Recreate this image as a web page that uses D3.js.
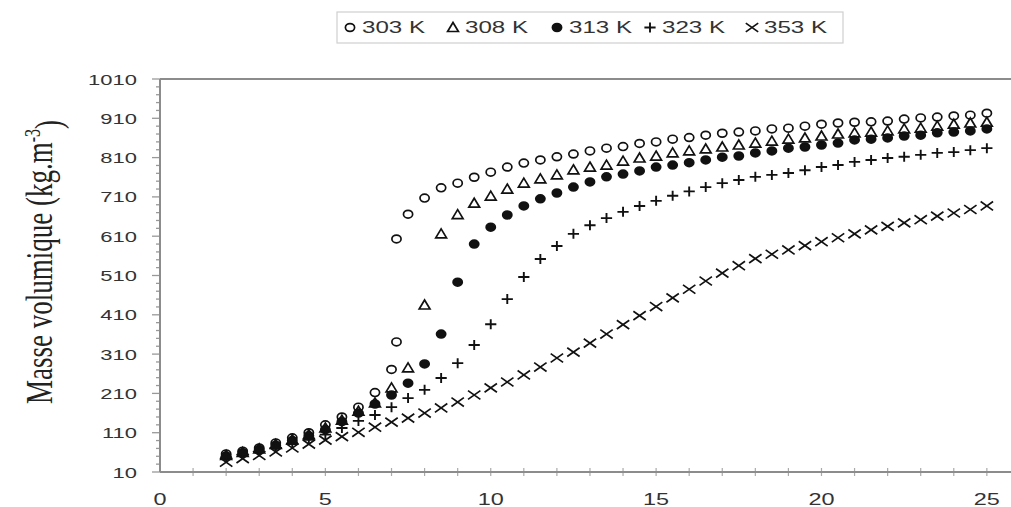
<!DOCTYPE html>
<html>
<head>
<meta charset="utf-8">
<script src="https://cdn.jsdelivr.net/npm/d3@7"></script>
<style>
    body { margin: 0; background: #fff; }
    svg { display: block; }
</style>
</head>
<body>
<div id="chart"></div>
<script>

// pressure (x) values
const pressure = [2, 2.5, 3, 3.5, 4, 4.5, 5, 5.5, 6, 6.5, 7, 7.5, 8, 8.5, 9, 9.5, 10, 10.5, 11, 11.5,
    12, 12.5, 13, 13.5, 14, 14.5, 15, 15.5, 16, 16.5, 17, 17.5, 18, 18.5, 19, 19.5, 20, 20.5,
    21, 21.5, 22, 22.5, 23, 23.5, 24, 24.5, 25];

// 303 K has a jump (two points) just above 7
const pressure303 = [2, 2.5, 3, 3.5, 4, 4.5, 5, 5.5, 6, 6.5, 7, 7.15, 7.15, 7.5, 8, 8.5, 9, 9.5, 10,
    10.5, 11, 11.5, 12, 12.5, 13, 13.5, 14, 14.5, 15, 15.5, 16, 16.5, 17, 17.5, 18, 18.5, 19,
    19.5, 20, 20.5, 21, 21.5, 22, 22.5, 23, 23.5, 24, 24.5, 25];

const rho303 = [56, 63, 71, 84, 97, 110, 130, 150, 175, 212, 271, 341, 603, 666, 707, 733, 745, 760, 773,
    786, 796, 804, 812, 819, 827, 834, 838, 846, 850, 857, 861, 867, 872, 875, 878, 883, 885,
    890, 895, 898, 900, 901, 903, 908, 911, 913, 916, 918, 923];

const rho308 = [52, 60, 69, 80, 92, 105, 122, 142, 165, 186, 224, 275, 435, 616, 665, 694, 712, 730, 745, 756,
    766, 779, 786, 791, 801, 809, 814, 822, 827, 832, 837, 842, 847, 852, 857, 860, 865, 870,
    873, 875, 878, 883, 885, 890, 895, 898, 900];

const rho313 = [51, 59, 67, 78, 90, 102, 118, 138, 160, 183, 206, 236, 285, 361, 493, 590, 633, 664, 687, 705,
    720, 735, 748, 761, 768, 776, 786, 791, 797, 804, 811, 814, 822, 827, 834, 837, 842, 847,
    855, 857, 860, 865, 867, 873, 875, 878, 883];

const rho323 = [48, 55, 62, 71, 81, 92, 105, 122, 140, 155, 175, 198, 219, 249, 287, 333, 386, 450, 506, 552,
    585, 616, 638, 656, 672, 687, 700, 713, 724, 735, 745, 753, 761, 766, 771, 778, 786, 791,
    799, 804, 809, 812, 817, 822, 824, 829, 834];

const rho353 = [35, 44, 52, 61, 71, 81, 91, 100, 111, 124, 137, 147, 160, 173, 188, 206, 224, 239, 257, 277,
    300, 315, 338, 361, 385, 408, 431, 453, 475, 496, 516, 535, 553, 564, 575, 586, 596, 606,
    616, 626, 635, 644, 652, 661, 669, 678, 687];

const seriesNames = ["303 K", "308 K", "313 K", "323 K", "353 K"];
const seriesShapes = ["circle", "triangle", "dot", "plus", "times"];

const yTickValues = [10, 110, 210, 310, 410, 510, 610, 710, 810, 910, 1010];
const xTickLabels = [0, 5, 10, 15, 20, 25];


class DensityVis {

    constructor(parentElement) {
        this.parentElement = parentElement;
        this.initVis();
    }

    initVis() {
        let vis = this;

        vis.margin = {top: 79, right: 0, bottom: 35, left: 160};
        vis.width = 1011 - vis.margin.left - vis.margin.right;
        vis.height = 507 - vis.margin.top - vis.margin.bottom;
        vis.stretch = 1.42;   // the picture is wider than tall text would be

        vis.root = d3.select("#" + vis.parentElement).append("svg")
            .attr("width", 1011)
            .attr("height", 507);

        vis.svg = vis.root.append("g")
            .attr("transform", `translate(${vis.margin.left}, ${vis.margin.top})`);

        vis.x = d3.scaleLinear()
            .domain([0, 25.73])
            .range([0, vis.width]);

        vis.y = d3.scaleLinear()
            .domain([10, 1010])
            .range([vis.height, 0]);

        vis.displayData = [
            {name: seriesNames[0], shape: seriesShapes[0], values: pressure303.map((p, i) => ({p: p, rho: rho303[i]}))},
            {name: seriesNames[1], shape: seriesShapes[1], values: pressure.map((p, i) => ({p: p, rho: rho308[i]}))},
            {name: seriesNames[2], shape: seriesShapes[2], values: pressure.map((p, i) => ({p: p, rho: rho313[i]}))},
            {name: seriesNames[3], shape: seriesShapes[3], values: pressure.map((p, i) => ({p: p, rho: rho323[i]}))},
            {name: seriesNames[4], shape: seriesShapes[4], values: pressure.map((p, i) => ({p: p, rho: rho353[i]}))}
        ];

        vis.updateVis();
    }

    // marker path centred on 0,0
    shapePath(shape) {
        switch (shape) {
            case "circle":
            case "dot":
                return "M-4.6,0A4.6,3.9 0 1 0 4.6,0A4.6,3.9 0 1 0 -4.6,0Z";
            case "triangle":
                return "M0,-5L5.4,4L-5.4,4Z";
            case "plus":
                return "M-5.6,0H5.6M0,-5V5";
            default:
                return "M-6.2,-4.4L6.2,4.4M-6.2,4.4L6.2,-4.4";
        }
    }

    drawMarker(g, shape, cx, cy) {
        let vis = this;
        let filled = shape === "dot";
        g.append("path")
            .attr("d", vis.shapePath(shape))
            .attr("transform", `translate(${cx},${cy})`)
            .attr("fill", filled ? "#111" : "none")
            .attr("stroke", "#111")
            .attr("stroke-width", shape === "plus" ? 1.9 : 1.7);
    }

    stretchedText(g, x, y, str, size, anchor) {
        let vis = this;
        return g.append("text")
            .attr("transform", `translate(${x},${y}) scale(${vis.stretch},1)`)
            .attr("text-anchor", anchor)
            .style("font-family", "'Liberation Sans', Arial, sans-serif")
            .style("font-size", size + "px")
            .style("fill", "#333")
            .text(str);
    }

    updateVis() {
        let vis = this;

        // frame: top line, y axis, x axis
        vis.svg.append("line")
            .attr("x1", 0).attr("x2", vis.width)
            .attr("y1", 0).attr("y2", 0)
            .attr("stroke", "#8c8c8c").attr("stroke-width", 2);

        // y axis ticks
        let yMinor = d3.range(10, 1011, 20);
        vis.svg.append("g").selectAll("line.minor")
            .data(yMinor)
            .enter().append("line")
            .attr("x1", d => yTickValues.includes(d) ? -8 : -4)
            .attr("x2", 0)
            .attr("y1", d => vis.y(d))
            .attr("y2", d => vis.y(d))
            .attr("stroke", "#999").attr("stroke-width", 1.3);

        vis.svg.append("line")
            .attr("x1", 0).attr("x2", 0)
            .attr("y1", 0).attr("y2", vis.height)
            .attr("stroke", "#8c8c8c").attr("stroke-width", 2);

        yTickValues.forEach(function(d) {
            vis.stretchedText(vis.svg, -23, vis.y(d) + 5.5, d, 15.5, "end");
        });

        // x axis ticks every 1
        vis.svg.append("g").selectAll("line")
            .data(d3.range(1, 26))
            .enter().append("line")
            .attr("x1", d => vis.x(d))
            .attr("x2", d => vis.x(d))
            .attr("y1", vis.height - 4)
            .attr("y2", vis.height + 4)
            .attr("stroke", "#aaa").attr("stroke-width", 1.2);

        vis.svg.append("line")
            .attr("x1", 0).attr("x2", vis.width)
            .attr("y1", vis.height).attr("y2", vis.height)
            .attr("stroke", "#8c8c8c").attr("stroke-width", 2);

        xTickLabels.forEach(function(d) {
            vis.stretchedText(vis.svg, vis.x(d), vis.height + 33, d, 16.5, "middle");
        });

        // y axis title
        let title = vis.root.append("text")
            .attr("transform", "translate(52,262) rotate(-90) scale(1,1.42)")
            .attr("text-anchor", "middle")
            .style("font-family", "'Liberation Serif', 'Times New Roman', serif")
            .style("font-size", "27px")
            .style("fill", "#222");
        title.append("tspan").text("Masse volumique (kg.m");
        title.append("tspan").attr("dy", "-0.55em").style("font-size", "16px").text("-3");
        title.append("tspan").attr("dy", "0.55em").text(")");

        // points
        vis.displayData.forEach(function(s) {
            let g = vis.svg.append("g").attr("class", "series");
            s.values.forEach(function(d) {
                vis.drawMarker(g, s.shape, vis.x(d.p), vis.y(d.rho));
            });
        });

        // legend
        let legend = vis.root.append("g").attr("class", "legend");
        legend.append("rect")
            .attr("x", 337).attr("y", 12)
            .attr("width", 506).attr("height", 31)
            .attr("fill", "#fff")
            .attr("stroke", "#cfcfcf").attr("stroke-width", 1.2);

        let legendX = [350, 453, 557, 650, 752];
        seriesNames.forEach(function(name, i) {
            vis.drawMarker(legend, seriesShapes[i], legendX[i], 27.5);
            vis.stretchedText(legend, legendX[i] + 12, 33, name, 17, "start");
        });
    }
}

let densityVis = new DensityVis("chart");

</script>
</body>
</html>
